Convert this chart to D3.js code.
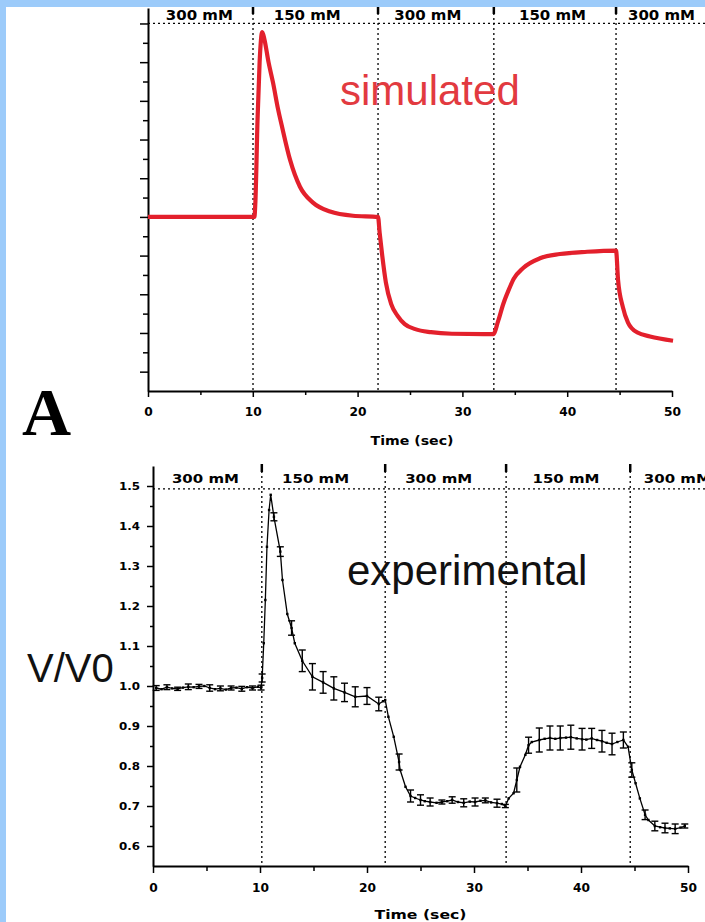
<!DOCTYPE html>
<meta charset="utf-8">
<style>
body { margin: 0; background: #fff; }
svg { display: block; }
.axis path, .axis line { stroke: #000; }
.axis path { stroke-width: 2px; }
.axis line { stroke-width: 1.5px; }
.axis text { font-family: "DejaVu Sans", sans-serif; font-weight: bold; fill: #000; }
.dots { stroke: #000; stroke-width: 1.3px; stroke-dasharray: 2,3; fill: none; }
.phase { font-family: "DejaVu Sans", sans-serif; font-weight: bold; fill: #000; }
</style>
<body>

<!-- load d3 -->
<script src="https://cdnjs.cloudflare.com/ajax/libs/d3/7.8.5/d3.min.js"></script>

<script>
// ---- data ----
var phaseLabels = ["300 mM", "150 mM", "300 mM", "150 mM", "300 mM"];
var labelTimes = [4.9, 15.2, 26.7, 38.6, 49.0];
var simSwitchTimes = [10.02, 21.95, 33.0, 44.66];
var expSwitchTimes = [10.17, 21.7, 33.0, 44.6];
var simRefLevel = 1.5;
var expRefLevel = 1.493;

var xTicks = [0, 10, 20, 30, 40, 50];
var xMinorTicks = [5, 15, 25, 35, 45];
var yTicks = [0.6, 0.7, 0.8, 0.9, 1.0, 1.1, 1.2, 1.3, 1.4, 1.5];
var yMinorTicks = [0.65, 0.75, 0.85, 0.95, 1.05, 1.15, 1.25, 1.35, 1.45];

// simulated V/V0 (red curve)
var simTime = [0, 10.15, 10.25, 10.45, 10.65, 10.9, 11.1, 11.5, 11.93, 12.4, 12.79, 13.55, 14.5, 15.74, 17.37, 19.56, 21.95,
  22.1, 22.35, 22.7, 23.2, 23.8, 24.5, 25.5, 27.0, 29.0, 32.95,
  33.4, 33.9, 34.4, 34.9, 35.8, 37.4, 39.3, 41.9, 44.66,
  44.85, 45.3, 45.8, 46.7, 47.9, 50.1];
var simValue = [1.0, 1.0, 1.04, 1.25, 1.40, 1.478, 1.46, 1.40, 1.347, 1.28, 1.233, 1.148, 1.078, 1.037, 1.014, 1.003, 1.0,
  0.96, 0.90, 0.83, 0.775, 0.745, 0.723, 0.710, 0.702, 0.698, 0.697,
  0.73, 0.775, 0.81, 0.84, 0.868, 0.893, 0.904, 0.910, 0.913,
  0.838, 0.768, 0.727, 0.701, 0.691, 0.680];

// experimental V/V0 with error bars
var expTime = [0.3, 0.8, 1.3, 1.8, 2.3, 2.8, 3.3, 3.8, 4.3, 4.8, 5.3, 5.8, 6.3, 6.8, 7.3, 7.8, 8.3, 8.8, 9.3, 9.8, 10.1,
  10.2, 10.35, 10.5, 10.65, 10.85, 11.0, 11.3, 11.9, 12.1, 12.55, 12.95, 13.25, 13.95, 14.9, 15.9, 16.9, 17.9, 18.9, 20.0, 21.1, 21.5, 21.7,
  22.0, 22.5, 23.0, 23.1, 23.6, 24.07, 24.5, 25.0, 25.4, 25.9, 26.5, 27.0, 27.5, 27.96, 28.5, 29.04, 29.6, 30.1, 30.6, 31.06, 31.6, 32.15, 32.6, 32.93,
  33.24, 33.7, 34.0, 34.3, 34.8, 35.1, 35.4, 36.1, 36.6, 37.1, 37.6, 38.06, 38.6, 39.05, 39.6, 40.1, 40.5, 41.0, 41.5, 41.96, 42.4, 42.9, 43.4, 43.96, 44.4,
  44.75, 45.1, 45.5, 45.99, 46.3, 46.9, 47.4, 47.85, 48.3, 48.8, 49.3, 49.7];
var expValue = [0.995, 0.992, 0.997, 0.994, 0.993, 0.996, 0.998, 0.997, 0.999, 1.0, 0.995, 0.992, 0.994, 0.991, 0.995, 0.996, 0.993, 0.997, 0.995, 0.998, 0.996,
  1.02, 1.107, 1.215, 1.348, 1.44, 1.478, 1.423, 1.336, 1.265, 1.18, 1.145, 1.107, 1.063, 1.023, 1.009, 0.994, 0.984, 0.973, 0.975, 0.955, 0.962, 0.965,
  0.923, 0.873, 0.81, 0.79, 0.748, 0.725, 0.72, 0.715, 0.712, 0.71, 0.708, 0.71, 0.712, 0.715, 0.71, 0.708, 0.711, 0.71, 0.713, 0.714, 0.709, 0.707, 0.705, 0.70,
  0.719, 0.732, 0.765, 0.798, 0.828, 0.852, 0.86, 0.865, 0.868, 0.87, 0.868, 0.87, 0.871, 0.872, 0.869, 0.867, 0.866, 0.869, 0.865, 0.862, 0.858, 0.855, 0.86, 0.865, 0.848,
  0.79, 0.757, 0.719, 0.678, 0.665, 0.65, 0.647, 0.645, 0.644, 0.643, 0.646, 0.65];
var expError = [0.006, 0, 0.006, 0, 0.004, 0, 0.007, 0, 0.005, 0, 0.008, 0, 0.006, 0, 0.005, 0, 0.006, 0, 0.005, 0, 0.006,
  0.01, 0, 0, 0, 0, 0, 0.01, 0.012, 0, 0, 0.018, 0, 0.027, 0.033, 0.027, 0.029, 0.023, 0.025, 0.021, 0.017, 0, 0,
  0, 0, 0.02, 0, 0, 0.015, 0, 0.013, 0, 0.01, 0, 0.005, 0, 0.008, 0, 0.01, 0, 0.01, 0, 0.006, 0, 0.01, 0, 0.004,
  0, 0, 0.03, 0, 0, 0.02, 0, 0.03, 0, 0.03, 0, 0.03, 0, 0.03, 0, 0.027, 0, 0.025, 0, 0.027, 0, 0.027, 0, 0.02, 0,
  0.018, 0, 0, 0.012, 0, 0.012, 0, 0.012, 0, 0.012, 0, 0.005];

// ---- page ----
var W = 705, H = 922;
var svg = d3.select("body").append("svg")
    .attr("width", W)
    .attr("height", H);

svg.append("rect").attr("width", W).attr("height", H).attr("fill", "#fff");

// scales for the two panels
var xTop = d3.scaleLinear().domain([0, 50]).range([148, 672]);
var yTop = d3.scaleLinear().domain([0.55, 1.54]).range([391, 8]);
var xBot = d3.scaleLinear().domain([0, 50]).range([153, 688]);
var yBot = d3.scaleLinear().domain([0.55, 1.55]).range([866, 466]);

function drawAxes(x, y, y0, opts) {
  // x major
  var gx = svg.append("g").attr("class", "axis")
      .attr("transform", "translate(0," + y0 + ")")
      .call(d3.axisBottom(x).tickValues(xTicks).tickSize(opts.xTick).tickSizeOuter(0));
  gx.selectAll("text")
      .attr("y", opts.xLabelY)
      .style("font-size", opts.xFont + "px")
      .attr("textLength", function(d) { return String(d).length * opts.charW; })
      .attr("lengthAdjust", "spacingAndGlyphs");
  // x minor
  svg.append("g").attr("class", "axis")
      .attr("transform", "translate(0," + y0 + ")")
      .call(d3.axisBottom(x).tickValues(xMinorTicks).tickSize(opts.xTick - 2).tickFormat(""))
      .select(".domain").remove();

  var x0 = x(0);
  var gy = svg.append("g").attr("class", "axis")
      .attr("transform", "translate(" + x0 + ",0)")
      .call(d3.axisLeft(y).tickValues(yTicks).tickSize(opts.yTick).tickSizeOuter(0)
        .tickFormat(opts.yLabels ? d3.format(".1f") : ""));
  if (opts.yLabels) {
    gy.selectAll("text")
        .attr("x", -13)
        .style("font-size", "11px")
        .attr("textLength", 21)
        .attr("lengthAdjust", "spacingAndGlyphs");
  }
  svg.append("g").attr("class", "axis")
      .attr("transform", "translate(" + x0 + ",0)")
      .call(d3.axisLeft(y).tickValues(yMinorTicks).tickSize(opts.yTick - 3).tickFormat(""))
      .select(".domain").remove();
}

function drawPhases(x, y, switches, refLevel, yTopPx, yAxisPx, labelY, labelFont) {
  // horizontal dotted reference line
  svg.append("line").attr("class", "dots")
      .attr("x1", x(0)).attr("x2", W)
      .attr("y1", y(refLevel)).attr("y2", y(refLevel));
  // vertical dotted switch lines
  svg.selectAll(null).data(switches).enter().append("line")
      .attr("class", "dots")
      .attr("x1", function(d) { return x(d); })
      .attr("x2", function(d) { return x(d); })
      .attr("y1", yTopPx).attr("y2", yAxisPx);
  svg.selectAll(null).data(switches).enter().append("line")
      .attr("x1", function(d) { return x(d); })
      .attr("x2", function(d) { return x(d); })
      .attr("y1", yTopPx - 2).attr("y2", yTopPx + 6)
      .attr("stroke", "#000").attr("stroke-width", 2.5);
  // concentration labels
  svg.selectAll(null).data(phaseLabels).enter().append("text")
      .attr("class", "phase")
      .attr("x", function(d, i) { return x(labelTimes[i]); })
      .attr("y", labelY)
      .attr("text-anchor", "middle")
      .style("font-size", labelFont + "px")
      .attr("textLength", 67)
      .attr("lengthAdjust", "spacingAndGlyphs")
      .text(function(d) { return d; });
}

// ---- top panel: simulated ----
drawPhases(xTop, yTop, simSwitchTimes, simRefLevel, 8, 391, 20, 14);
drawAxes(xTop, yTop, 391, { xTick: 6, xLabelY: 16, xFont: 12, charW: 8.5, yTick: 8, yLabels: false });

var simData = simTime.map(function(t, i) { return { t: t, v: simValue[i] }; });
svg.append("path")
    .datum(simData)
    .attr("fill", "none")
    .attr("stroke", "#e3202c")
    .attr("stroke-width", 4.2)
    .attr("stroke-linejoin", "round")
    .attr("d", d3.line()
      .x(function(d) { return xTop(d.t); })
      .y(function(d) { return yTop(d.v); })
      .curve(d3.curveMonotoneX));

svg.append("text")
    .attr("x", 340).attr("y", 105)
    .style("font-family", "'Liberation Sans', Arial, sans-serif")
    .style("font-size", "42px")
    .attr("fill", "#e23a40")
    .text("simulated");

svg.append("text")
    .attr("x", xTop(25) + 2).attr("y", 445)
    .attr("text-anchor", "middle")
    .attr("class", "phase")
    .style("font-size", "13px")
    .attr("textLength", 83)
    .attr("lengthAdjust", "spacingAndGlyphs")
    .text("Time (sec)");

// panel letter
svg.append("text")
    .attr("x", 22).attr("y", 435)
    .style("font-family", "'Liberation Serif', 'Times New Roman', serif")
    .style("font-weight", "bold")
    .style("font-size", "68px")
    .text("A");

// ---- bottom panel: experimental ----
drawPhases(xBot, yBot, expSwitchTimes, expRefLevel, 466, 866, 483, 12);
drawAxes(xBot, yBot, 866, { xTick: 7, xLabelY: 17, xFont: 13, charW: 8.5, yTick: 6, yLabels: true });

var expData = expTime.map(function(t, i) { return { t: t, v: expValue[i], e: expError[i] }; });

svg.append("path")
    .datum(expData)
    .attr("fill", "none")
    .attr("stroke", "#000")
    .attr("stroke-width", 1.3)
    .attr("d", d3.line()
      .x(function(d) { return xBot(d.t); })
      .y(function(d) { return yBot(d.v); }));

var bars = svg.append("g")
    .attr("stroke", "#000")
    .attr("stroke-width", 1.4)
    .selectAll("g")
    .data(expData.filter(function(d) { return d.e > 0; }))
    .enter().append("g");
bars.append("line")
    .attr("x1", function(d) { return xBot(d.t); })
    .attr("x2", function(d) { return xBot(d.t); })
    .attr("y1", function(d) { return yBot(d.v + d.e); })
    .attr("y2", function(d) { return yBot(d.v - d.e); });
bars.append("line")
    .attr("x1", function(d) { return xBot(d.t) - 3.5; })
    .attr("x2", function(d) { return xBot(d.t) + 3.5; })
    .attr("y1", function(d) { return yBot(d.v + d.e); })
    .attr("y2", function(d) { return yBot(d.v + d.e); });
bars.append("line")
    .attr("x1", function(d) { return xBot(d.t) - 3.5; })
    .attr("x2", function(d) { return xBot(d.t) + 3.5; })
    .attr("y1", function(d) { return yBot(d.v - d.e); })
    .attr("y2", function(d) { return yBot(d.v - d.e); });

// point markers
svg.append("g").selectAll("rect")
    .data(expData)
    .enter().append("rect")
    .attr("x", function(d) { return xBot(d.t) - 1.2; })
    .attr("y", function(d) { return yBot(d.v) - 1.2; })
    .attr("width", 2.4).attr("height", 2.4)
    .attr("fill", "#000");

svg.append("text")
    .attr("x", 347).attr("y", 585)
    .style("font-family", "'Liberation Sans', Arial, sans-serif")
    .style("font-size", "42px")
    .attr("fill", "#111")
    .text("experimental");

svg.append("text")
    .attr("x", 27).attr("y", 682)
    .style("font-family", "'Liberation Sans', Arial, sans-serif")
    .style("font-size", "40px")
    .attr("fill", "#111")
    .text("V/V0");

svg.append("text")
    .attr("x", xBot(25)).attr("y", 919)
    .attr("text-anchor", "middle")
    .attr("class", "phase")
    .style("font-size", "13px")
    .attr("textLength", 92)
    .attr("lengthAdjust", "spacingAndGlyphs")
    .text("Time (sec)");

// light blue frame strips
svg.append("rect").attr("x", 0).attr("y", 0).attr("width", W).attr("height", 7).attr("fill", "#9ccbfa");
svg.append("rect").attr("x", 0).attr("y", 0).attr("width", 6).attr("height", H).attr("fill", "#9ccbfa");
</script>
</body>
